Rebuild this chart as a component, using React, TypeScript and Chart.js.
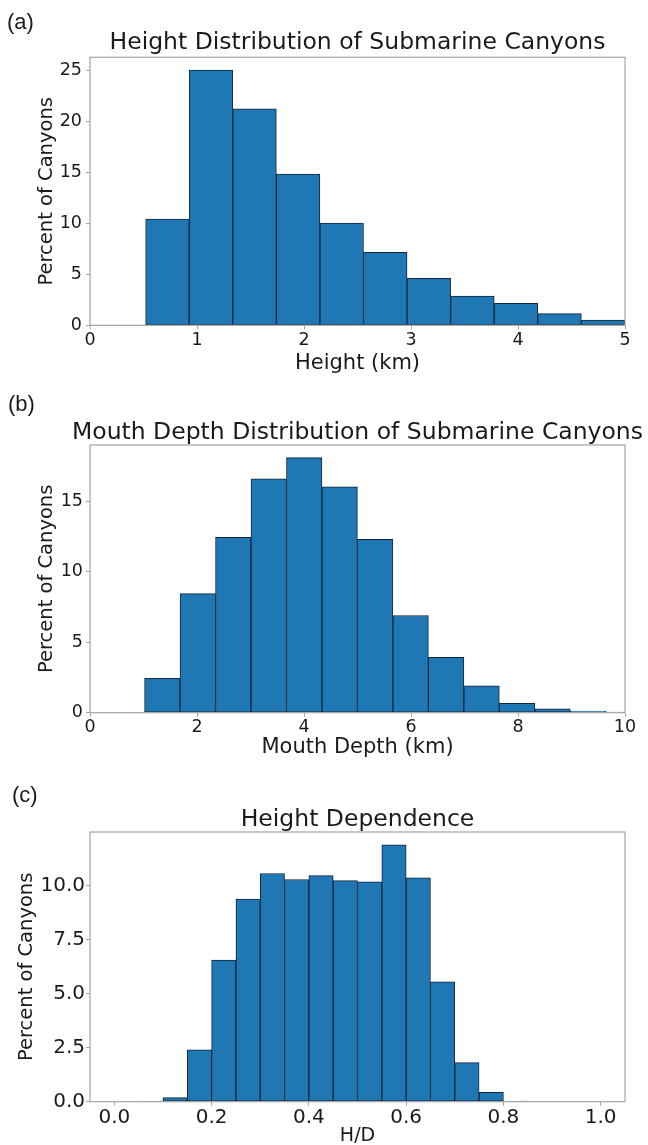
import React, { useEffect, useRef } from "react";
import { Chart, registerables } from "chart.js";

Chart.register(...registerables);

// ---------- data ----------
// (a) Height distribution
const heightBinStart = 0.52;
const heightBinWidth = 0.4072;
const heightPercent = [10.4, 25.0, 21.2, 14.8, 10.0, 7.15, 4.6, 2.85, 2.15, 1.15, 0.52];
const heightXRange = [0, 5];
const heightXStep = 1;
const heightYMax = 26.25;
const heightYStep = 5;

// (b) Mouth depth distribution
const depthBinStart = 1.02;
const depthBinWidth = 0.6631;
const depthPercent = [2.43, 8.44, 12.43, 16.58, 18.07, 16.0, 12.29, 6.89, 3.92, 1.91, 0.66, 0.28, 0.12, 0.05];
const depthXRange = [0, 10];
const depthXStep = 2;
const depthYMax = 18.97;
const depthYStep = 5;

// (c) Height dependence (H/D)
const ratioBinStart = 0.0;
const ratioBinWidth = 0.05;
const ratioPercent = [0, 0.03, 0.19, 2.4, 6.55, 9.38, 10.56, 10.28, 10.46, 10.23, 10.17, 11.89, 10.36, 5.55, 1.81, 0.43, 0.03, 0, 0, 0];
const ratioXRange = [-0.05, 1.05];
const ratioXStep = 0.2;
const ratioYMax = 12.48;
const ratioYStep = 2.5;

const panelLabels = ["(a)", "(b)", "(c)"];
const panelTitles = [
  "Height Distribution of Submarine Canyons",
  "Mouth Depth Distribution of Submarine Canyons",
  "Height Dependence",
];
const xTitles = ["Height (km)", "Mouth Depth (km)", "H/D"];
const yTitle = "Percent of Canyons";

// ---------- styling ----------
const BAR_COLOR = "#1f77b4";
const EDGE_COLOR = "#13263a";
const FRAME_COLOR = "#a3a3a3";
const TEXT_COLOR = "#1a1a1a";
const FONT = "'DejaVu Sans', sans-serif";

Chart.defaults.font.family = FONT;
Chart.defaults.color = TEXT_COLOR;

const framePlugin = {
  id: "frame",
  afterDraw(chart: any) {
    const { left, top, right, bottom } = chart.chartArea;
    const ctx = chart.ctx;
    ctx.save();
    ctx.strokeStyle = FRAME_COLOR;
    ctx.lineWidth = 1.2;
    ctx.strokeRect(left, top, right - left, bottom - top);
    ctx.restore();
  },
};

type Layout = {
  top: number;
  height: number;
  titlePadTop: number;
  titlePadBottom: number;
  xHeight: number;
  xTitleSize: number;
  xTitlePadBottom: number;
  yTitlePadTop: number;
  tickSize: number;
  xTickPad: number;
  yTickPad: number;
};

type PanelProps = {
  title: string;
  xTitle: string;
  binStart: number;
  binWidth: number;
  values: number[];
  xRange: number[];
  xStep: number;
  yMax: number;
  yStep: number;
  decimals: number;
  layout: Layout;
};

const CANVAS_W = 715;
const AXIS_W = 90;

function HistPanel(p: PanelProps) {
  const ref = useRef<HTMLCanvasElement | null>(null);
  useEffect(() => {
    if (!ref.current) return;
    const L = p.layout;
    const points = p.values.map((v, i) => ({ x: p.binStart + p.binWidth * (i + 0.5), y: v }));
    const fmt = (v: any) =>
      p.decimals > 0 ? Number(v).toFixed(p.decimals) : String(Math.round(Number(v)));
    const chart = new Chart(ref.current, {
      type: "bar",
      data: {
        datasets: [
          {
            data: points as any,
            xAxisID: "x",
            yAxisID: "y",
            backgroundColor: BAR_COLOR,
            borderColor: EDGE_COLOR,
            borderWidth: 1,
            borderSkipped: false,
            barPercentage: 1,
            categoryPercentage: 1,
          },
        ],
      },
      options: {
        responsive: false,
        animation: false,
        devicePixelRatio: 1,
        layout: { padding: 0 },
        plugins: {
          legend: { display: false },
          tooltip: { enabled: false },
          title: {
            display: true,
            text: p.title,
            color: TEXT_COLOR,
            font: { size: 23.5, weight: "normal", lineHeight: 1 },
            padding: { top: L.titlePadTop, bottom: L.titlePadBottom },
          },
        },
        scales: {
          x: {
            type: "linear",
            position: "bottom",
            min: p.xRange[0],
            max: p.xRange[1],
            offset: false,
            grid: {
              display: true,
              drawOnChartArea: false,
              drawTicks: true,
              tickLength: 4,
              color: FRAME_COLOR,
              offset: false,
            },
            border: { display: false },
            ticks: {
              stepSize: p.xStep,
              includeBounds: false,
              autoSkip: false,
              maxRotation: 0,
              padding: L.xTickPad,
              color: TEXT_COLOR,
              font: { size: L.tickSize },
              callback: (v: any) => fmt(v),
            },
            title: {
              display: true,
              text: p.xTitle,
              color: TEXT_COLOR,
              font: { size: L.xTitleSize, lineHeight: 1.2 },
              padding: { top: 0, bottom: L.xTitlePadBottom },
            },
            afterFit: (s: any) => {
              s.height = L.xHeight;
            },
          } as any,
          y: {
            type: "linear",
            position: "left",
            min: 0,
            max: p.yMax,
            grid: {
              display: true,
              drawOnChartArea: false,
              drawTicks: true,
              tickLength: 4,
              color: FRAME_COLOR,
            },
            border: { display: false },
            ticks: {
              stepSize: p.yStep,
              includeBounds: false,
              autoSkip: false,
              padding: L.yTickPad,
              color: TEXT_COLOR,
              font: { size: L.tickSize },
              callback: (v: any) => fmt(v),
            },
            title: {
              display: true,
              text: yTitle,
              color: TEXT_COLOR,
              font: { size: 19.5, lineHeight: 1.2 },
              padding: { top: L.yTitlePadTop, bottom: 0 },
            },
            afterFit: (s: any) => {
              s.width = AXIS_W;
            },
          } as any,
          yR: {
            type: "linear",
            position: "right",
            display: true,
            grid: { display: false },
            border: { display: false },
            ticks: { display: false },
            afterFit: (s: any) => {
              s.width = AXIS_W;
            },
          } as any,
        },
      },
      plugins: [framePlugin],
    });
    return () => chart.destroy();
  }, []);
  return (
    <canvas
      ref={ref}
      width={CANVAS_W}
      height={p.layout.height}
      style={{ position: "absolute", left: 0, top: p.layout.top }}
    />
  );
}

const labelStyle = (x: number, y: number): React.CSSProperties => ({
  position: "absolute",
  left: x,
  top: y,
  fontFamily: "'Liberation Sans', Arial, sans-serif",
  fontSize: 22,
  lineHeight: 1,
  color: TEXT_COLOR,
});

export default function App() {
  const layoutA: Layout = {
    top: 0, height: 380, titlePadTop: 30.85, titlePadBottom: 2.95, xHeight: 54.7,
    xTitleSize: 21, xTitlePadBottom: 3.9, yTitlePadTop: 35, tickSize: 17.5, xTickPad: 1, yTickPad: 4,
  };
  const layoutB: Layout = {
    top: 385, height: 380, titlePadTop: 35.65, titlePadBottom: 0.85, xHeight: 52.3,
    xTitleSize: 21, xTitlePadBottom: 4.5, yTitlePadTop: 35, tickSize: 17.5, xTickPad: 0, yTickPad: 3,
  };
  const layoutC: Layout = {
    top: 765, height: 385, titlePadTop: 43.5, titlePadBottom: 0, xHeight: 48.3,
    xTitleSize: 19, xTitlePadBottom: 2.7, yTitlePadTop: 15.3, tickSize: 20, xTickPad: 0, yTickPad: 1,
  };
  return (
    <div
      style={{
        position: "absolute",
        left: 0,
        top: 0,
        width: 648,
        height: 1145,
        overflow: "hidden",
        background: "#ffffff",
      }}
    >
      <HistPanel
        title={panelTitles[0]} xTitle={xTitles[0]}
        binStart={heightBinStart} binWidth={heightBinWidth} values={heightPercent}
        xRange={heightXRange} xStep={heightXStep} yMax={heightYMax} yStep={heightYStep}
        decimals={0} layout={layoutA}
      />
      <HistPanel
        title={panelTitles[1]} xTitle={xTitles[1]}
        binStart={depthBinStart} binWidth={depthBinWidth} values={depthPercent}
        xRange={depthXRange} xStep={depthXStep} yMax={depthYMax} yStep={depthYStep}
        decimals={0} layout={layoutB}
      />
      <HistPanel
        title={panelTitles[2]} xTitle={xTitles[2]}
        binStart={ratioBinStart} binWidth={ratioBinWidth} values={ratioPercent}
        xRange={ratioXRange} xStep={ratioXStep} yMax={ratioYMax} yStep={ratioYStep}
        decimals={1} layout={layoutC}
      />
      <div style={labelStyle(7, 11)}>{panelLabels[0]}</div>
      <div style={labelStyle(8, 393)}>{panelLabels[1]}</div>
      <div style={labelStyle(12, 784)}>{panelLabels[2]}</div>
    </div>
  );
}
